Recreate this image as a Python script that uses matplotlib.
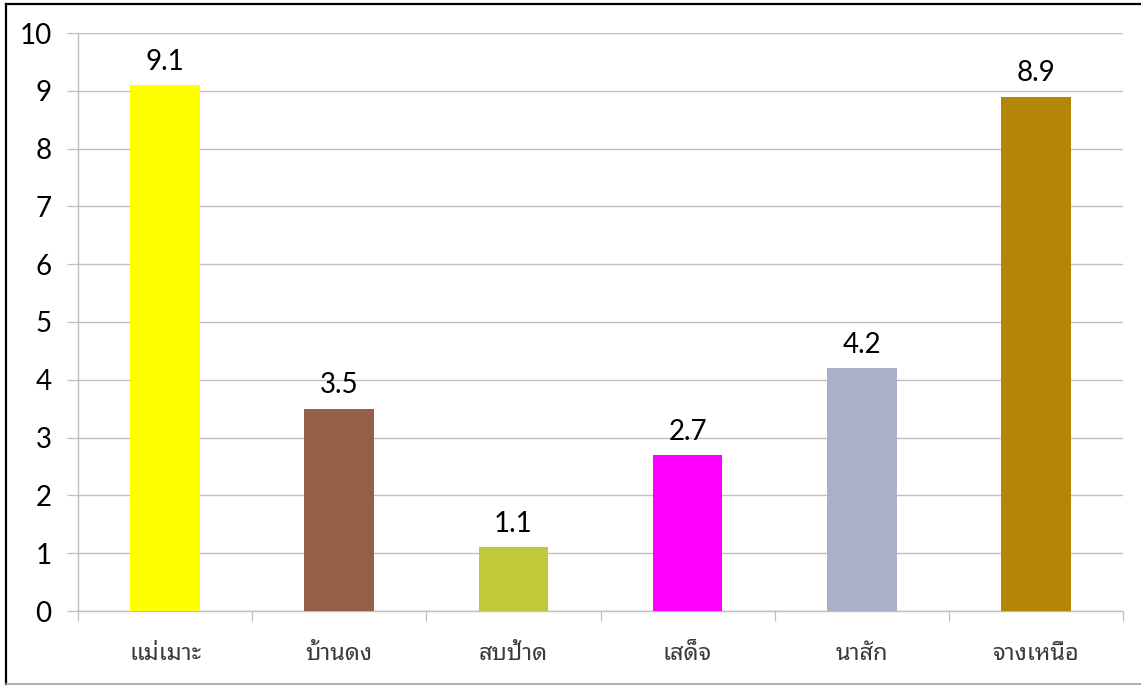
import matplotlib
matplotlib.use("Agg")
import matplotlib.pyplot as plt
import numpy as np
from matplotlib.lines import Line2D

# -------------------------
# Data
# -------------------------

sites = ["แม่เมาะ", "บ้านดง", "สบป้าด", "เสด็จ", "นาสัก", "จางเหนือ"]
values = [9.1, 3.5, 1.1, 2.7, 4.2, 8.9]
colors = ["#FFFF00", "#965F4A", "#BFC93A", "#FF00FF", "#AAB0CA", "#B48608"]
yticks = list(range(0, 11))

num_font = ["Lato", "DejaVu Sans"]
thai_font = ["Noto Sans Thai Looped", "Noto Sans Thai", "Sarabun", "DejaVu Sans"]
grid_col = "#BFBFBF"

# -------------------------
# Figure
# -------------------------

fig = plt.figure(figsize=(11.41, 6.86), dpi=100)
ax = fig.add_axes([78 / 1141, 1 - 611 / 686, 1045 / 1141, 578 / 686])

x = np.arange(len(sites))
bars = ax.bar(x, values, width=0.4, color=colors, zorder=3)

for xi, v in zip(x, values):
    ax.annotate(f"{v:.1f}", (xi, v), xytext=(0, 11), textcoords="offset points",
                ha="center", va="baseline", fontsize=20, family=num_font,
                color="black")

ax.set_xlim(-0.5, len(sites) - 0.5)
ax.set_ylim(0, 10)

ax.set_yticks(yticks)
ax.set_yticklabels([str(t) for t in yticks], family=num_font, fontsize=20)
ax.tick_params(axis="y", length=8, width=0.9, color=grid_col, pad=11)
ax.grid(axis="y", color=grid_col, linewidth=1.0, zorder=0)

ax.set_xticks(x)
ax.set_xticklabels(sites, family=thai_font, fontsize=17, color="#3A3A3A")
ax.tick_params(axis="x", which="major", length=0, pad=22)
ax.set_xticks(np.arange(-0.5, len(sites)), minor=True)
ax.tick_params(axis="x", which="minor", length=7, width=0.9, color=grid_col)

for side in ["top", "right"]:
    ax.spines[side].set_visible(False)
for side in ["left", "bottom"]:
    ax.spines[side].set_color(grid_col)
    ax.spines[side].set_linewidth(1.0)

# outer frame
fig.add_artist(Line2D([6 / 1141, 1.0], [1 - 4 / 686, 1 - 4 / 686], color="black", linewidth=1.6))
fig.add_artist(Line2D([6 / 1141, 6 / 1141], [1 - 4 / 686, 1 - 684 / 686], color="black", linewidth=1.6))
fig.add_artist(Line2D([6 / 1141, 1.0], [1 - 684 / 686, 1 - 684 / 686], color="#A0A0A0", linewidth=1.2))

fig.savefig("out.png", dpi=100)
